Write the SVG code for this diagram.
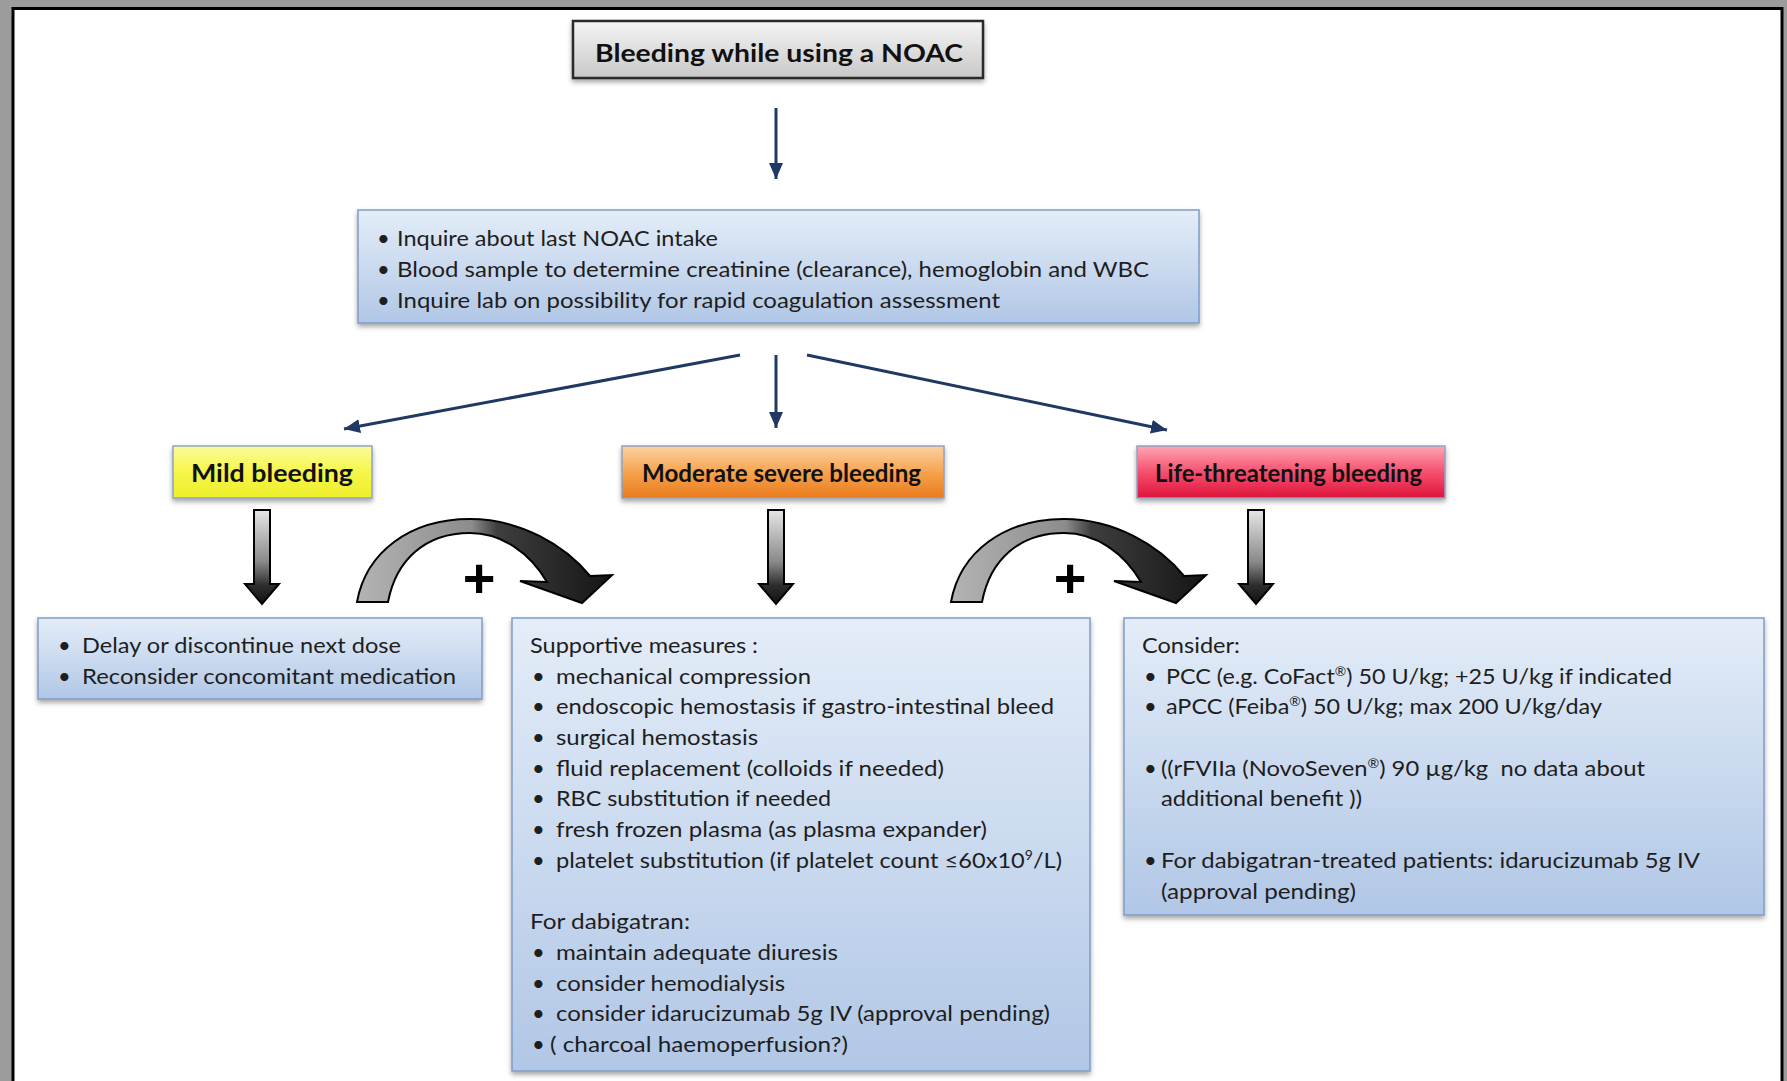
<svg xmlns="http://www.w3.org/2000/svg" width="1787" height="1081" viewBox="0 0 1787 1081">
<style>
.t{font-family:Lato,'Liberation Sans',Arial,sans-serif;font-size:22px;fill:#1e1e1e}
.h{font-family:Lato,'Liberation Sans',Arial,sans-serif;font-weight:bold;font-size:24px;fill:#111}
.conn{stroke:#1f3864;stroke-width:3;fill:none;marker-end:url(#ah)}
.box{fill:url(#gBlue);stroke:#7f9cc6;stroke-width:1.5;filter:url(#sh)}
.blk{fill:url(#gDown);stroke:#000;stroke-width:2}
.crv{fill:url(#gCurve);stroke:#000;stroke-width:2}
.sup{font-size:13px}
</style>
<defs>
<linearGradient id="gTitle" x1="0" y1="0" x2="0" y2="1"><stop offset="0" stop-color="#f5f5f5"/><stop offset="1" stop-color="#c8c8c8"/></linearGradient>
<linearGradient id="gBlue" x1="0" y1="0" x2="0" y2="1"><stop offset="0" stop-color="#e4edf8"/><stop offset="1" stop-color="#b1c7e6"/></linearGradient>
<linearGradient id="gYellow" x1="0" y1="0" x2="0" y2="1"><stop offset="0" stop-color="#fbfb9a"/><stop offset="0.5" stop-color="#f6f64a"/><stop offset="1" stop-color="#eeee2a"/></linearGradient>
<linearGradient id="gOrange" x1="0" y1="0" x2="0" y2="1"><stop offset="0" stop-color="#fcd1a3"/><stop offset="0.5" stop-color="#f6a44f"/><stop offset="1" stop-color="#e97a1c"/></linearGradient>
<linearGradient id="gRed" x1="0" y1="0" x2="0" y2="1"><stop offset="0" stop-color="#ffa6b3"/><stop offset="0.5" stop-color="#f4506e"/><stop offset="1" stop-color="#e0143c"/></linearGradient>
<linearGradient id="gDown" x1="0" y1="0" x2="0" y2="1"><stop offset="0" stop-color="#e6e6e6"/><stop offset="0.55" stop-color="#8a8a8a"/><stop offset="0.8" stop-color="#2e2e2e"/><stop offset="1" stop-color="#111"/></linearGradient>
<linearGradient id="gCurve" x1="0" y1="0" x2="1" y2="0"><stop offset="0" stop-color="#b4b4b4"/><stop offset="0.45" stop-color="#8c8c8c"/><stop offset="0.55" stop-color="#3e3e3e"/><stop offset="1" stop-color="#151515"/></linearGradient>
<filter id="sh" x="-5%" y="-10%" width="110%" height="130%"><feDropShadow dx="0" dy="3" stdDeviation="2.5" flood-color="#000" flood-opacity="0.35"/></filter>
<marker id="ah" markerUnits="userSpaceOnUse" markerWidth="16" markerHeight="14" refX="16" refY="7" orient="auto"><path d="M0,0 L16,7 L0,14 Z" fill="#1f3864"/></marker>
</defs>

<!-- frame -->
<rect x="0" y="0" width="1787" height="1081" fill="#9c9c9c"/>
<rect x="13" y="8.5" width="1769" height="1080" fill="#fff" stroke="#000" stroke-width="3"/>

<g id="title">
<rect x="573" y="21" width="410" height="57" fill="url(#gTitle)" stroke="#2b2b2b" stroke-width="2.5" filter="url(#sh)"/>
<text class="h" x="595" y="62" font-size="25" textLength="368" lengthAdjust="spacingAndGlyphs">Bleeding while using a NOAC</text>
</g>

<g id="initial">
<rect class="box" x="358" y="210" width="841" height="113"/>
<text class="t" x="377" y="246">•</text><text class="t" x="397" y="246" textLength="321" lengthAdjust="spacingAndGlyphs">Inquire about last NOAC intake</text>
<text class="t" x="377" y="277">•</text><text class="t" x="397" y="277" textLength="752" lengthAdjust="spacingAndGlyphs">Blood sample to determine creatinine (clearance), hemoglobin and WBC</text>
<text class="t" x="377" y="308">•</text><text class="t" x="397" y="308" textLength="603" lengthAdjust="spacingAndGlyphs">Inquire lab on possibility for rapid coagulation assessment</text>
</g>

<g id="mild">
<rect x="173" y="446" width="199" height="52" fill="url(#gYellow)" stroke="#8fa3c4" stroke-width="1.5" filter="url(#sh)"/>
<text class="h" x="191" y="482" textLength="162" lengthAdjust="spacingAndGlyphs">Mild bleeding</text>
</g>
<g id="moderate">
<rect x="622" y="446" width="322" height="52" fill="url(#gOrange)" stroke="#8fa3c4" stroke-width="1.5" filter="url(#sh)"/>
<text class="h" x="642" y="482" textLength="279" lengthAdjust="spacingAndGlyphs">Moderate severe bleeding</text>
</g>
<g id="lifethreatening">
<rect x="1137" y="446" width="308" height="52" fill="url(#gRed)" stroke="#8fa3c4" stroke-width="1.5" filter="url(#sh)"/>
<text class="h" x="1155" y="482" textLength="267" lengthAdjust="spacingAndGlyphs">Life-threatening bleeding</text>
</g>

<g id="mild-actions">
<rect class="box" x="38" y="618" width="444" height="81"/>
<text class="t" x="58" y="653">•</text><text class="t" x="82" y="653" textLength="319" lengthAdjust="spacingAndGlyphs">Delay or discontinue next dose</text>
<text class="t" x="58" y="684">•</text><text class="t" x="82" y="684" textLength="374" lengthAdjust="spacingAndGlyphs">Reconsider concomitant medication</text>
</g>

<g id="moderate-actions">
<rect class="box" x="512" y="618" width="578" height="453"/>
<text class="t" x="530" y="653" textLength="228" lengthAdjust="spacingAndGlyphs">Supportive measures :</text>
<text class="t" x="532" y="684">•</text><text class="t" x="556" y="684" textLength="255" lengthAdjust="spacingAndGlyphs">mechanical compression</text>
<text class="t" x="532" y="714">•</text><text class="t" x="556" y="714" textLength="498" lengthAdjust="spacingAndGlyphs">endoscopic hemostasis if gastro-intestinal bleed</text>
<text class="t" x="532" y="745">•</text><text class="t" x="556" y="745" textLength="202" lengthAdjust="spacingAndGlyphs">surgical hemostasis</text>
<text class="t" x="532" y="776">•</text><text class="t" x="556" y="776" textLength="388" lengthAdjust="spacingAndGlyphs">fluid replacement (colloids if needed)</text>
<text class="t" x="532" y="806">•</text><text class="t" x="556" y="806" textLength="275" lengthAdjust="spacingAndGlyphs">RBC substitution if needed</text>
<text class="t" x="532" y="837">•</text><text class="t" x="556" y="837" textLength="431" lengthAdjust="spacingAndGlyphs">fresh frozen plasma (as plasma expander)</text>
<text class="t" x="532" y="868">•</text><text class="t" x="556" y="868" textLength="506" lengthAdjust="spacingAndGlyphs">platelet substitution (if platelet count ≤60x10<tspan class="sup" baseline-shift="super">9</tspan>/L)</text>
<text class="t" x="530" y="929" textLength="160" lengthAdjust="spacingAndGlyphs">For dabigatran:</text>
<text class="t" x="532" y="960">•</text><text class="t" x="556" y="960" textLength="282" lengthAdjust="spacingAndGlyphs">maintain adequate diuresis</text>
<text class="t" x="532" y="991">•</text><text class="t" x="556" y="991" textLength="229" lengthAdjust="spacingAndGlyphs">consider hemodialysis</text>
<text class="t" x="532" y="1021">•</text><text class="t" x="556" y="1021" textLength="494" lengthAdjust="spacingAndGlyphs">consider idarucizumab 5g IV (approval pending)</text>
<text class="t" x="532" y="1052">•</text><text class="t" x="550" y="1052" textLength="298" lengthAdjust="spacingAndGlyphs">( charcoal haemoperfusion?)</text>
</g>

<g id="life-actions">
<rect class="box" x="1124" y="618" width="640" height="297"/>
<text class="t" x="1142" y="653" textLength="98" lengthAdjust="spacingAndGlyphs">Consider:</text>
<text class="t" x="1144" y="684">•</text><text class="t" x="1166" y="684" textLength="506" lengthAdjust="spacingAndGlyphs">PCC (e.g. CoFact<tspan class="sup" baseline-shift="super">®</tspan>) 50 U/kg; +25 U/kg if indicated</text>
<text class="t" x="1144" y="714">•</text><text class="t" x="1166" y="714" textLength="436" lengthAdjust="spacingAndGlyphs">aPCC (Feiba<tspan class="sup" baseline-shift="super">®</tspan>) 50 U/kg; max 200 U/kg/day</text>
<text class="t" x="1144" y="776">•</text><text class="t" x="1161" y="776" textLength="484" lengthAdjust="spacingAndGlyphs" xml:space="preserve">((rFVIIa (NovoSeven<tspan class="sup" baseline-shift="super">®</tspan>) 90 µg/kg  no data about</text>
<text class="t" x="1161" y="806" textLength="201" lengthAdjust="spacingAndGlyphs">additional benefit ))</text>
<text class="t" x="1144" y="868">•</text><text class="t" x="1161" y="868" textLength="539" lengthAdjust="spacingAndGlyphs">For dabigatran-treated patients: idarucizumab 5g IV</text>
<text class="t" x="1161" y="899" textLength="195" lengthAdjust="spacingAndGlyphs">(approval pending)</text>
</g>

<g id="connectors">
<line class="conn" x1="776" y1="108" x2="776" y2="179"/>
<line class="conn" x1="740" y1="355" x2="344" y2="429"/>
<line class="conn" x1="776" y1="355" x2="776" y2="428"/>
<line class="conn" x1="807" y1="355" x2="1167" y2="430"/>
<path class="blk" d="M254,510 H270 V584 H279 L262,604 L245,584 H254 Z"/>
<path class="blk" d="M768,510 H784 V584 H793 L776,604 L759,584 H768 Z"/>
<path class="blk" d="M1248,510 H1264 V584 H1273 L1256,604 L1239,584 H1248 Z"/>
<path class="crv" d="M357,602 C366,552 410,519 470,519 C520,519 565,545 590,576 L612,575 L582,603 L520,581 L547,582 C530,553 502,533 470,533 C425,533 396,560 388,602 Z"/>
<path class="crv" transform="translate(594,0)" d="M357,602 C366,552 410,519 470,519 C520,519 565,545 590,576 L612,575 L582,603 L520,581 L547,582 C530,553 502,533 470,533 C425,533 396,560 388,602 Z"/>
<text x="479" y="597" text-anchor="middle" font-family="'Liberation Sans',Arial,sans-serif" font-weight="bold" font-size="56" fill="#000">+</text>
<text x="1070" y="597" text-anchor="middle" font-family="'Liberation Sans',Arial,sans-serif" font-weight="bold" font-size="56" fill="#000">+</text>
</g>
</svg>
